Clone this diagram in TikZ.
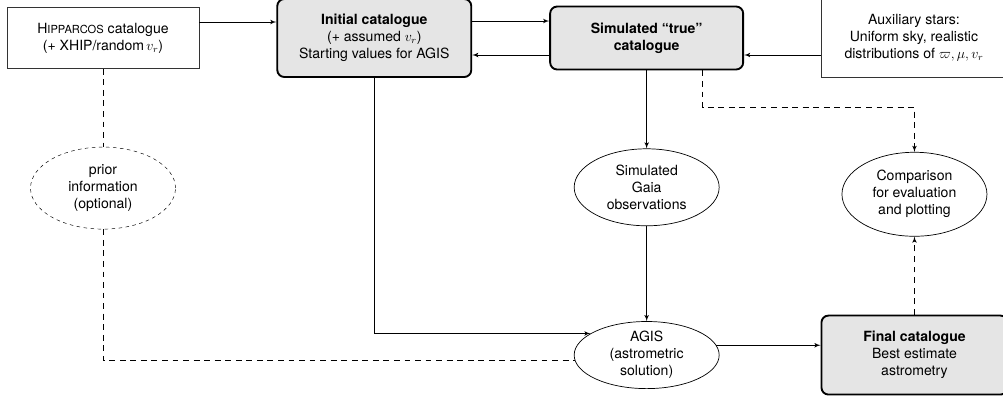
\documentclass[tikz,border=0pt]{standalone}
\usepackage{amsmath}
\usepackage{fontspec}
\setmainfont{TeX Gyre Heros}
\usepackage{tikz}
\usetikzlibrary{shapes,arrows}
\usetikzlibrary{positioning}
\tikzset{auto,>=latex', minimum size=0pt, node distance=2.31cm, font=\fontsize{12}{14.5}\selectfont}
\tikzstyle{source} = [draw=black!80, line width=0.6pt, fill=white, rectangle, minimum height=1.83cm, minimum width=5.76cm, text centered, align=center]
\tikzstyle{catalogue} = [draw, line width=1.6pt, fill=gray!20, rectangle, rounded corners=6pt, minimum height=2.34cm, minimum width=5.82cm, text centered, align=center]
\tikzstyle{process} = [draw, line width=0.6pt, fill=white, ellipse, inner sep=0pt, minimum width=4.35cm, minimum height=2.31cm, text centered, align=center]
\tikzstyle{optional} = [process, dash pattern=on 3pt off 3pt, line width=0.4pt]
\tikzstyle{flow} = [line width=0.8pt]
\tikzstyle{check} = [line width=0.8pt, dash pattern=on 5pt off 4pt]

\begin{document}
\begin{tikzpicture}
    \useasboundingbox (0,0) rectangle (30.09,-11.97);
    \node [source] at (3.09,-1.14) (hip) {H{\fontsize{9.5}{9.5}\selectfont IPPARCOS} catalogue\\(+ XHIP/random\,$v_r$)};
    \node [catalogue, right=of hip] (init) {\textbf{Initial catalogue}\\(+ assumed $v_r$)\\Starting values for AGIS};
    \node [catalogue, right=of init, minimum height=1.89cm, minimum width=5.79cm] (truecat) {\textbf{Simulated ``true''}\\\textbf{catalogue}};
    \node [source, right=of truecat, minimum height=2.34cm, minimum width=5.55cm] (aux) {Auxiliary stars:\\Uniform sky, realistic\\distributions of $\varpi, \mu, v_r$};
    \node [optional, below=2.34cm of hip, minimum height=2.46cm] (prior) {prior\\information\\(optional)};
    \node [process, below=2.34cm of truecat] (gaiaobs) {Simulated\\Gaia\\observations};
    \node [process, below=2.85cm of gaiaobs, minimum height=1.92cm] (agis) {AGIS\\(astrometric\\solution)};
    \node [catalogue, right=3.03cm of agis, minimum height=2.37cm, minimum width=5.58cm] (final) {\textbf{Final catalogue}\\Best estimate\\astrometry};
    \node [process, above=2.34cm of final, minimum height=2.52cm] (compare) {Comparison\\for evaluation\\and plotting};

    \draw [flow,->] ([yshift=.48cm]hip.east) -- ([yshift=.48cm]init.west);
    \draw [flow,->] ([yshift=.51cm]init.east) -- ([yshift=.51cm]truecat.west);
    \draw [flow,->] ([yshift=-.51cm]truecat.west) -- ([yshift=-.51cm]init.east);
    \draw [flow,->] ([yshift=-.51cm]aux.west) -- ([yshift=-.51cm]truecat.east);
    \draw [flow,->] (truecat) -- (gaiaobs);
    \draw [flow,->] (gaiaobs) -- (agis);
    \draw [flow,->] (init.south) |- (agis.159);
    \draw [flow,->] (agis.8) -- (agis.8 -| final.west);
    \draw [check] (hip) -- (prior);
    \draw [check] (prior.south) |- (agis.184);
    \draw [check,->] ([xshift=1.68cm]truecat.south) -- ++(0,-1.11) -| (compare.north);
    \draw [check,->] (final) -- (compare);
\end{tikzpicture}
\end{document}
